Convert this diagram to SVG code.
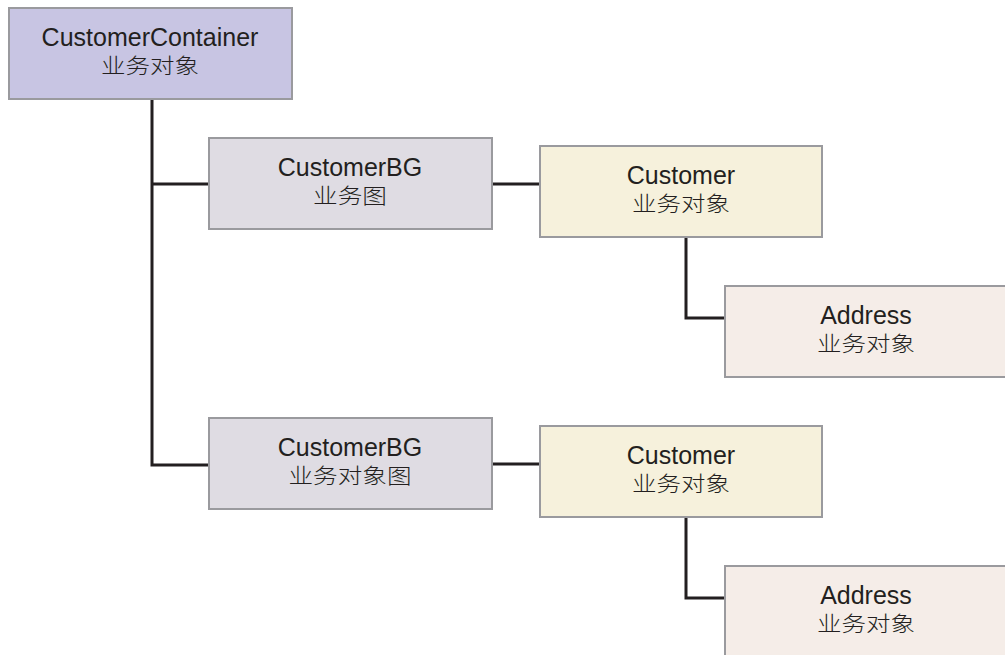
<svg xmlns="http://www.w3.org/2000/svg" width="1005" height="655" viewBox="0 0 1005 655">
<style>
.box{stroke:#9a9a9e;stroke-width:2}
.c{fill:#c8c5e3}
.g{fill:#dfdce3}
.y{fill:#f6f1dc}
.p{fill:#f5ede8}
.t{font-family:"Liberation Sans",Arial,sans-serif;font-size:25px;fill:#231f20;text-anchor:middle}
.z{font-family:"Noto Sans CJK SC",sans-serif;font-size:21px;font-weight:300;fill:#231f20;text-anchor:middle}
.ln{fill:none;stroke:#231f20;stroke-width:3}
</style>
<rect width="1005" height="655" fill="#fff"/>
<g id="connectors">
<path class="ln" d="M152 99 V465 H209"/>
<path class="ln" d="M152 184 H209"/>
<path class="ln" d="M492 184 H540"/>
<path class="ln" d="M492 464 H540"/>
<path class="ln" d="M686 237 V318 H724"/>
<path class="ln" d="M686 517 V598 H724"/>
</g>
<g id="customerContainer">
<rect class="box c" x="9" y="8" width="283" height="91"/>
<text class="t" x="150" y="46">CustomerContainer</text>
<text class="z" x="150" y="73" textLength="98" lengthAdjust="spacingAndGlyphs">业务对象</text>
</g>
<g id="customerBG1">
<rect class="box g" x="209" y="138" width="283" height="91"/>
<text class="t" x="350" y="176">CustomerBG</text>
<text class="z" x="350" y="203" textLength="74" lengthAdjust="spacingAndGlyphs">业务图</text>
</g>
<g id="customer1">
<rect class="box y" x="540" y="146" width="282" height="91"/>
<text class="t" x="681" y="184">Customer</text>
<text class="z" x="681" y="211" textLength="98" lengthAdjust="spacingAndGlyphs">业务对象</text>
</g>
<g id="address1">
<rect class="box p" x="725" y="286" width="284" height="91"/>
<text class="t" x="866" y="324">Address</text>
<text class="z" x="866" y="351" textLength="98" lengthAdjust="spacingAndGlyphs">业务对象</text>
</g>
<g id="customerBG2">
<rect class="box g" x="209" y="418" width="283" height="91"/>
<text class="t" x="350" y="456">CustomerBG</text>
<text class="z" x="350" y="483" textLength="123" lengthAdjust="spacingAndGlyphs">业务对象图</text>
</g>
<g id="customer2">
<rect class="box y" x="540" y="426" width="282" height="91"/>
<text class="t" x="681" y="464">Customer</text>
<text class="z" x="681" y="491" textLength="98" lengthAdjust="spacingAndGlyphs">业务对象</text>
</g>
<g id="address2">
<rect class="box p" x="725" y="566" width="284" height="91"/>
<text class="t" x="866" y="604">Address</text>
<text class="z" x="866" y="631" textLength="98" lengthAdjust="spacingAndGlyphs">业务对象</text>
</g>
</svg>
